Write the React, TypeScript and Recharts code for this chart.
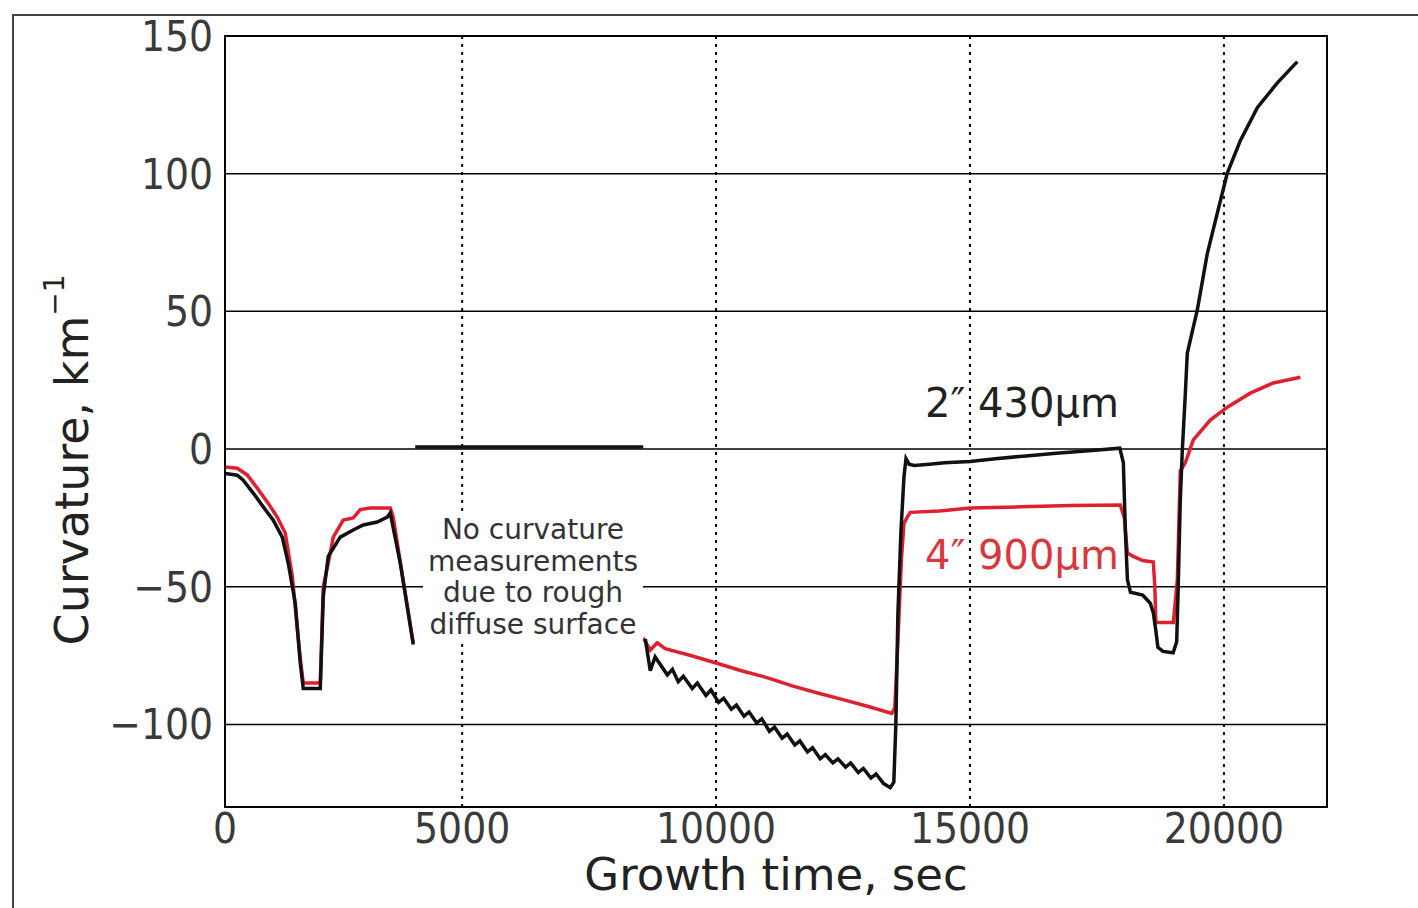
import React from "react";
import {
  LineChart,
  Line,
  XAxis,
  YAxis,
  CartesianGrid,
  ReferenceLine,
  ReferenceArea,
  Label,
} from "recharts";

const FONT = '"DejaVu Sans Condensed", "DejaVu Sans", Verdana, sans-serif';
const FONT_WIDE = '"DejaVu Sans", Verdana, sans-serif';
const BLACK = "#111111";
const RED = "#e0202e";

// the figure's axis starts a little after t=0, the left tick is labelled "0"
const X_DOMAIN = [330, 22030];
const X_TICKS = [330, 5000, 10000, 15000, 20000];
const Y_DOMAIN = [-130, 150];
const Y_TICKS = [-100, -50, 0, 50, 100, 150];

// 2" 430um wafer (black); null = gap in the record
const blackTime = [
  335, 374, 571, 689, 886, 1083, 1280, 1457, 1575, 1713, 1812, 1871, 2206, 2265, 2304, 2363,
  2599, 2855, 3052, 3328, 3525, 3584, 3781, 4037,
  4056,
  4076, 8566,
  8590,
  8606, 8704, 8800, 9040, 9140, 9255, 9355, 9530, 9630, 9800, 9900, 10050, 10150, 10300, 10400,
  10550, 10650, 10800, 10900, 11050, 11150, 11300, 11400, 11550, 11650, 11800, 11900, 12050,
  12150, 12300, 12400, 12550, 12650, 12800, 12900, 13050, 13150, 13300, 13430, 13500, 13540,
  13580, 13640, 13700, 13740, 13800, 13900, 14200, 14500, 15000, 15500, 16100, 16700, 17400,
  17950, 18020, 18060, 18100, 18160, 18400, 18550, 18610, 18660, 18700, 18800, 19000, 19070,
  19100, 19141, 19181, 19240, 19279, 19476, 19673, 19870, 20067, 20323, 20658, 21052, 21446,
];
const blackCurv = [
  -9, -9, -9.5, -11.3, -16, -21, -25.8, -32, -41.4, -56, -77.7, -87, -87, -53.7, -47.6, -39,
  -32, -29.4, -27.6, -26.5, -24.7, -23.2, -41.4, -71,
  null,
  0.7, 0.7,
  null,
  -69, -80.5, -75.5, -82, -80, -84.5, -82.5, -87, -85, -89.5, -87.5, -92, -90.5, -94.5, -93,
  -97, -95.5, -99.5, -98, -102.5, -101, -105, -103.5, -107.5, -106, -110, -108.5, -112.5,
  -111, -114, -112.5, -115.5, -114, -117.5, -116, -119.5, -118, -121.5, -123, -121, -100,
  -60, -30, -10, -3.5, -5.5, -6, -5.5, -5, -4.5, -3.5, -2.5, -1.5, -0.5,
  0.3, -5, -30, -47.5, -52, -53, -56, -59.5, -66, -72, -73.5, -74, -70,
  -50, -18.5, -0.4, 20, 34.8, 50.5, 71, 85.7, 100.2, 112, 124, 133, 140.7,
];

// 4" 900um wafer (red)
const redTime = [
  335, 571, 768, 965, 1162, 1359, 1516, 1654, 1812, 1871, 2206, 2265, 2363, 2462, 2658, 2855,
  2993, 3190, 3584, 3643, 3781, 4037,
  4300,
  8566, 8704, 8842, 9000, 9500, 10000, 10500, 11000, 11500, 12000, 12500, 13000, 13460, 13520,
  13580, 13650, 13700, 13765, 13824, 14400, 15006, 16000, 17000, 17960, 18040, 18098, 18216,
  18400, 18610, 18640, 18660, 19004, 19083, 19141, 19240, 19397, 19732, 20067, 20520, 20973,
  21505,
];
const redCurv = [
  -6.5, -7, -9.4, -14.2, -19.2, -24.7, -30.5, -46, -76, -85, -85, -50, -41.4, -32, -25.8, -25,
  -22, -21.4, -21.4, -24.7, -41, -70.5,
  null,
  -68.6, -73, -70.4, -72.5, -75, -77.7, -80.5, -83, -86, -88.6, -91, -93.5, -96, -94,
  -70, -40, -27, -24.7, -23, -22.5, -21.4, -21, -20.5, -20.3, -25, -37.7, -39,
  -40.5, -41, -50, -63, -63, -47.5, -8, -5, 3.3, 10.5, 15.2, 20.3, 24,
  26.1,
];

const toPoints = (ts: number[], ks: (number | null)[]) =>
  ts.map((t, i) => ({ t, k: ks[i] }));

const blackPoints = toPoints(blackTime, blackCurv);
const redPoints = toPoints(redTime, redCurv);

const fmtX = (v: number) => (v < 1000 ? "0" : String(v));
const fmtY = (v: number) => (v < 0 ? `\u2212${Math.abs(v)}` : String(v));

function YTitle() {
  return (
    <text
      transform="translate(72,460) rotate(-90)"
      textAnchor="middle"
      dominantBaseline="central"
      fontFamily={FONT_WIDE}
      fontSize={46}
      fill="#222"
    >
      Curvature, km
      <tspan dy={-18} fontSize={28}>
        −1
      </tspan>
    </text>
  );
}

const noteLines = ["No curvature", "measurements", "due to rough", "diffuse surface"];

export default function App() {
  return (
    <div
      style={{
        position: "absolute",
        left: 0,
        top: 0,
        width: 1418,
        height: 908,
        overflow: "hidden",
        background: "#fff",
        fontFamily: FONT_WIDE,
      }}
    >
      <div
        style={{
          position: "absolute",
          left: 12,
          top: 14,
          width: 1440,
          height: 920,
          border: "2px solid #444",
        }}
      />
      <LineChart
        width={1418}
        height={908}
        margin={{ top: 36, right: 91, bottom: 50, left: 155 }}
        style={{ position: "absolute", left: 0, top: 0 }}
      >
        <CartesianGrid vertical={false} stroke="#000" strokeWidth={1.5} />
        {X_TICKS.slice(1).map((x) => (
          <ReferenceLine key={x} x={x} stroke="#000" strokeWidth={2} strokeDasharray="3 5" />
        ))}
        <XAxis
          dataKey="t"
          type="number"
          domain={X_DOMAIN}
          ticks={X_TICKS}
          allowDataOverflow
          tickFormatter={fmtX}
          height={51}
          tickSize={0}
          tickMargin={6}
          axisLine={{ stroke: "#000", strokeWidth: 2 }}
          tick={{ fontSize: 42, fill: "#3a3a3a", fontFamily: FONT }}
        >
          <Label
            value="Growth time, sec"
            position="bottom"
            offset={0}
            fontSize={45}
            fill="#222"
            fontFamily={FONT_WIDE}
          />
        </XAxis>
        <YAxis
          type="number"
          domain={Y_DOMAIN}
          ticks={Y_TICKS}
          allowDataOverflow
          tickFormatter={fmtY}
          width={70}
          tickSize={0}
          tickMargin={12}
          axisLine={{ stroke: "#000", strokeWidth: 2 }}
          tick={{ fontSize: 42, fill: "#3a3a3a", fontFamily: FONT }}
        >
          <Label content={() => <YTitle />} />
        </YAxis>
        <ReferenceArea
          x1={X_DOMAIN[0]}
          x2={X_DOMAIN[1]}
          y1={Y_DOMAIN[0]}
          y2={Y_DOMAIN[1]}
          fill="none"
          stroke="#000"
          strokeWidth={2}
        />
        <Line
          data={redPoints}
          dataKey="k"
          type="linear"
          stroke={RED}
          strokeWidth={3.5}
          dot={false}
          isAnimationActive={false}
        />
        <Line
          data={blackPoints}
          dataKey="k"
          type="linear"
          stroke={BLACK}
          strokeWidth={3.5}
          dot={false}
          isAnimationActive={false}
        />
      </LineChart>

      <div
        style={{
          position: "absolute",
          left: 423,
          top: 514,
          width: 220,
          background: "#fff",
        }}
      >
        {noteLines.map((s) => (
          <div
            key={s}
            style={{
              height: 31.5,
              textAlign: "center",
              fontSize: 28,
              lineHeight: "31.5px",
              color: "#333",
              whiteSpace: "nowrap",
            }}
          >
            {s}
          </div>
        ))}
      </div>
      <div
        style={{
          position: "absolute",
          left: 925,
          top: 383,
          fontSize: 40,
          lineHeight: "40px",
          color: "#222",
          whiteSpace: "nowrap",
        }}
      >
        2″ 430μm
      </div>
      <div
        style={{
          position: "absolute",
          left: 925,
          top: 535,
          fontSize: 40,
          lineHeight: "40px",
          color: "#d8383c",
          whiteSpace: "nowrap",
        }}
      >
        4″ 900μm
      </div>
    </div>
  );
}
